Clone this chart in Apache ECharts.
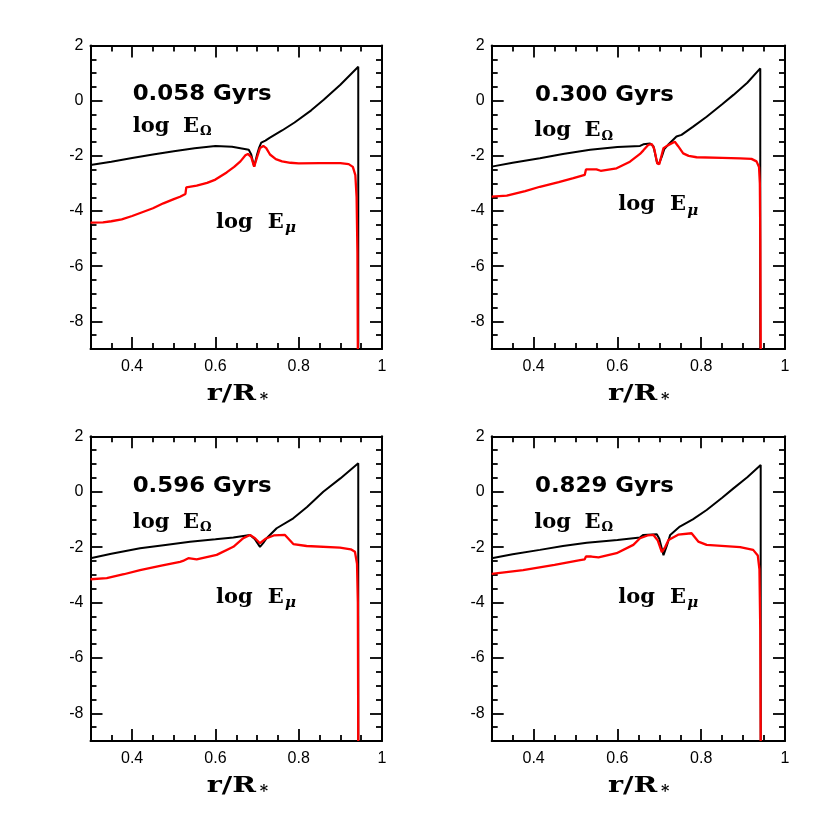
<!DOCTYPE html>
<html><head><meta charset="utf-8">
<script src="https://cdn.jsdelivr.net/npm/echarts@6/dist/echarts.min.js"></script>
<style>html,body{margin:0;padding:0;background:#fff}#c{width:830px;height:829px}</style>
</head><body><div id="c"></div>
<script>
// ---- data ----
const ages = ['0.058', '0.300', '0.596', '0.829'];
const xMajor = [0.4, 0.6, 0.8, 1.0];
const xMinor = [0.35, 0.45, 0.5, 0.55, 0.65, 0.7, 0.75, 0.85, 0.9, 0.95];
const yMajor = [-8, -6, -4, -2, 0, 2];
const yMinor = [-8.5, -7.5, -7, -6.5, -5.5, -5, -4.5, -3.5, -3, -2.5, -1.5, -1, -0.5, 0.5, 1, 1.5];

// panel 1 (0.058 Gyrs)
const p1OmegaR   = [0.30, 0.35, 0.40, 0.45, 0.50, 0.55, 0.60, 0.64, 0.67, 0.68, 0.686, 0.693, 0.700, 0.705, 0.710, 0.72, 0.73, 0.76, 0.79, 0.83, 0.86, 0.90, 0.943, 0.943];
const p1OmegaLog = [-2.33, -2.21, -2.08, -1.95, -1.83, -1.72, -1.64, -1.67, -1.75, -1.78, -1.95, -2.39, -1.95, -1.70, -1.52, -1.45, -1.35, -1.08, -0.79, -0.35, 0.03, 0.58, 1.23, -9];
const p1MuR   = [0.30, 0.33, 0.35, 0.375, 0.40, 0.45, 0.475, 0.50, 0.515, 0.528, 0.530, 0.555, 0.58, 0.60, 0.627, 0.645, 0.66, 0.672, 0.678, 0.686, 0.693, 0.70, 0.707, 0.715, 0.722, 0.731, 0.745, 0.76, 0.78, 0.80, 0.85, 0.90, 0.92, 0.93, 0.936, 0.939, 0.941, 0.942];
const p1MuLog = [-4.42, -4.41, -4.37, -4.30, -4.18, -3.90, -3.72, -3.57, -3.48, -3.38, -3.14, -3.08, -2.98, -2.86, -2.60, -2.40, -2.20, -1.98, -1.93, -2.05, -2.39, -2.05, -1.72, -1.64, -1.72, -1.95, -2.12, -2.20, -2.25, -2.27, -2.26, -2.26, -2.30, -2.40, -2.70, -3.5, -5.5, -9];

// panel 2 (0.300 Gyrs)
const p2OmegaR   = [0.30, 0.35, 0.415, 0.47, 0.535, 0.60, 0.654, 0.662, 0.678, 0.686, 0.695, 0.700, 0.706, 0.712, 0.721, 0.741, 0.753, 0.78, 0.813, 0.85, 0.877, 0.91, 0.941, 0.941];
const p2OmegaLog = [-2.39, -2.25, -2.09, -1.93, -1.78, -1.68, -1.64, -1.58, -1.55, -1.65, -2.27, -2.25, -2.03, -1.75, -1.60, -1.30, -1.24, -0.95, -0.58, -0.13, 0.21, 0.65, 1.17, -9];
const p2MuR   = [0.30, 0.336, 0.38, 0.415, 0.46, 0.495, 0.522, 0.525, 0.55, 0.56, 0.598, 0.63, 0.654, 0.662, 0.674, 0.682, 0.688, 0.695, 0.70, 0.706, 0.71, 0.72, 0.737, 0.745, 0.757, 0.77, 0.789, 0.85, 0.893, 0.92, 0.932, 0.938, 0.940, 0.941, 0.942];
const p2MuLog = [-3.48, -3.44, -3.28, -3.12, -2.95, -2.81, -2.69, -2.49, -2.49, -2.54, -2.45, -2.21, -1.93, -1.80, -1.60, -1.57, -1.75, -2.27, -2.30, -1.95, -1.72, -1.62, -1.49, -1.65, -1.91, -2.00, -2.05, -2.07, -2.09, -2.11, -2.20, -2.40, -3.0, -5, -9];

// panel 3 (0.596 Gyrs)
const p3OmegaR   = [0.30, 0.35, 0.419, 0.48, 0.539, 0.60, 0.643, 0.683, 0.695, 0.707, 0.715, 0.723, 0.747, 0.787, 0.82, 0.859, 0.90, 0.943, 0.943];
const p3OmegaLog = [-2.40, -2.24, -2.04, -1.92, -1.81, -1.72, -1.65, -1.56, -1.72, -1.99, -1.85, -1.68, -1.32, -0.96, -0.55, 0.0, 0.48, 1.03, -9];
const p3MuR   = [0.30, 0.339, 0.38, 0.419, 0.47, 0.515, 0.522, 0.525, 0.535, 0.555, 0.603, 0.643, 0.667, 0.683, 0.695, 0.707, 0.72, 0.74, 0.767, 0.787, 0.819, 0.899, 0.925, 0.935, 0.940, 0.942, 0.943];
const p3MuLog = [-3.16, -3.12, -2.98, -2.83, -2.67, -2.53, -2.50, -2.43, -2.40, -2.44, -2.28, -1.99, -1.68, -1.56, -1.68, -1.86, -1.70, -1.58, -1.56, -1.89, -1.96, -2.02, -2.08, -2.17, -2.6, -4, -9];

// panel 4 (0.829 Gyrs)
const p4OmegaR   = [0.30, 0.35, 0.415, 0.47, 0.527, 0.60, 0.654, 0.662, 0.694, 0.70, 0.71, 0.718, 0.726, 0.749, 0.78, 0.813, 0.85, 0.877, 0.91, 0.942, 0.942];
const p4OmegaLog = [-2.40, -2.26, -2.10, -1.96, -1.84, -1.74, -1.65, -1.56, -1.54, -1.70, -2.29, -1.95, -1.56, -1.26, -1.00, -0.66, -0.22, 0.12, 0.52, 0.96, -9];
const p4MuR   = [0.30, 0.375, 0.45, 0.511, 0.522, 0.525, 0.538, 0.555, 0.598, 0.638, 0.654, 0.672, 0.686, 0.696, 0.706, 0.714, 0.722, 0.745, 0.777, 0.793, 0.813, 0.893, 0.924, 0.935, 0.939, 0.941, 0.942];
const p4MuLog = [-2.97, -2.83, -2.64, -2.47, -2.44, -2.34, -2.34, -2.37, -2.22, -1.92, -1.68, -1.58, -1.56, -1.75, -2.18, -2.00, -1.74, -1.55, -1.50, -1.80, -1.92, -2.00, -2.10, -2.30, -2.8, -5, -9];

const panels = [
  { omR: p1OmegaR, om: p1OmegaLog, muR: p1MuR, mu: p1MuLog },
  { omR: p2OmegaR, om: p2OmegaLog, muR: p2MuR, mu: p2MuLog },
  { omR: p3OmegaR, om: p3OmegaLog, muR: p3MuR, mu: p3MuLog },
  { omR: p4OmegaR, om: p4OmegaLog, muR: p4MuR, mu: p4MuLog }
];

// ---- layout ----
const grids = [
  { left: 90.5, top: 45.5, width: 291.5, height: 303.5 },
  { left: 491.7, top: 45.5, width: 293.3, height: 303.5 },
  { left: 90.5, top: 436.3, width: 291.5, height: 304.7 },
  { left: 491.7, top: 436.3, width: 293.3, height: 304.7 }
];
// text anchor positions (pixel baselines) per panel
const textPos = [
  { age: [132.7, 102], om: [132.7, 133], mu: [216, 229], ax: [206.7, 401.7] },
  { age: [535, 102.7], om: [534.3, 137.7], mu: [618.3, 211.7], ax: [608, 401.7] },
  { age: [132.7, 493.3], om: [132.7, 529.3], mu: [216, 604], ax: [206.7, 793.7] },
  { age: [535, 493.3], om: [534.3, 529.3], mu: [618.3, 604], ax: [608, 793.7] }
];

const black = '#000';
const red = '#ff0000';
const lineW = { color: black, width: 2 };

const xAxis = [], yAxis = [], series = [], graphic = [];
grids.forEach((g, i) => {
  const xi = xAxis.length, yi = yAxis.length;
  const baseX = { gridIndex: i, type: 'value', min: 0.3, max: 1.0, splitLine: { show: false } };
  const baseY = { gridIndex: i, type: 'value', min: -9, max: 2, splitLine: { show: false } };
  ['bottom', 'top'].forEach(pos => {
    xAxis.push(Object.assign({}, baseX, {
      position: pos,
      axisLine: { show: true, onZero: false, lineStyle: lineW },
      axisTick: { show: true, inside: true, length: 12, customValues: xMajor, lineStyle: { color: black, width: 1.8 } },
      axisLabel: pos === 'bottom'
        ? { show: true, customValues: xMajor, color: black, fontFamily: 'Liberation Sans', fontSize: 16, margin: 10 }
        : { show: false }
    }));
    xAxis.push(Object.assign({}, baseX, {
      position: pos,
      axisLine: { show: false, onZero: false },
      axisTick: { show: true, inside: true, length: 6, customValues: xMinor, lineStyle: { color: black, width: 1.8 } },
      axisLabel: { show: false }
    }));
  });
  ['left', 'right'].forEach(pos => {
    yAxis.push(Object.assign({}, baseY, {
      position: pos,
      axisLine: { show: true, onZero: false, lineStyle: lineW },
      axisTick: { show: true, inside: true, length: 12, customValues: yMajor, lineStyle: { color: black, width: 1.8 } },
      axisLabel: pos === 'left'
        ? { show: true, customValues: yMajor, color: black, fontFamily: 'Liberation Sans', fontSize: 16, margin: 7 }
        : { show: false }
    }));
    yAxis.push(Object.assign({}, baseY, {
      position: pos,
      axisLine: { show: false, onZero: false },
      axisTick: { show: true, inside: true, length: 6, customValues: yMinor, lineStyle: { color: black, width: 1.8 } },
      axisLabel: { show: false }
    }));
  });
  const p = panels[i];
  series.push({
    type: 'line', xAxisIndex: xi, yAxisIndex: yi, showSymbol: false, symbol: 'none',
    lineStyle: { color: black, width: 2 }, data: p.omR.map((r, k) => [r, p.om[k]]), z: 3
  });
  series.push({
    type: 'line', xAxisIndex: xi, yAxisIndex: yi, showSymbol: false, symbol: 'none',
    lineStyle: { color: red, width: 2.3 }, data: p.muR.map((r, k) => [r, p.mu[k]]), z: 4
  });

  // texts
  const t = textPos[i];
  const txt = (x, y, text, size, family, weight, style, sx) => ({
    type: 'text', x: x, y: y, z: 100, scaleX: sx || 1,
    style: {
      text: text, fill: black, fontSize: size, fontFamily: family, fontWeight: weight || 'normal',
      fontStyle: style || 'normal', textAlign: 'left', align: 'left',
      textVerticalAlign: 'middle', verticalAlign: 'middle'
    }
  });
  const mid = (base, fs) => base - 0.33 * fs;
  graphic.push(txt(t.age[0], mid(t.age[1], 22), ages[i] + ' Gyrs', 22, 'DejaVu Sans', 'bold', 'normal', 1.04));
  graphic.push(txt(t.om[0], mid(t.om[1], 21), 'log', 21, 'DejaVu Serif', 'bold'));
  graphic.push(txt(t.om[0] + 50.3, mid(t.om[1], 21), 'E', 21, 'DejaVu Serif', 'bold'));
  graphic.push(txt(t.om[0] + 67.3, mid(t.om[1] + 3, 13), 'Ω', 13, 'DejaVu Serif', 'bold'));
  graphic.push(txt(t.mu[0], mid(t.mu[1], 21), 'log', 21, 'DejaVu Serif', 'bold'));
  graphic.push(txt(t.mu[0] + 51.7, mid(t.mu[1], 21), 'E', 21, 'DejaVu Serif', 'bold'));
  graphic.push(txt(t.mu[0] + 69, mid(t.mu[1] + 4, 15), 'μ', 15, 'DejaVu Serif', 'bold', 'italic'));
  graphic.push(txt(t.ax[0], mid(t.ax[1], 22), 'r/R', 22, 'DejaVu Serif', 'bold', 'normal', 1.3));
  graphic.push(txt(t.ax[0] + 53, mid(t.ax[1] + 3, 16), '*', 16, 'DejaVu Serif', 'bold'));
});

const chart = echarts.init(document.getElementById('c'), null, { renderer: 'canvas' });
chart.setOption({
  animation: false,
  backgroundColor: '#fff',
  grid: grids.map(g => Object.assign({ containLabel: false, outerBoundsMode: 'none' }, g)),
  xAxis: xAxis,
  yAxis: yAxis,
  series: series,
  graphic: graphic
});
</script></body></html>
